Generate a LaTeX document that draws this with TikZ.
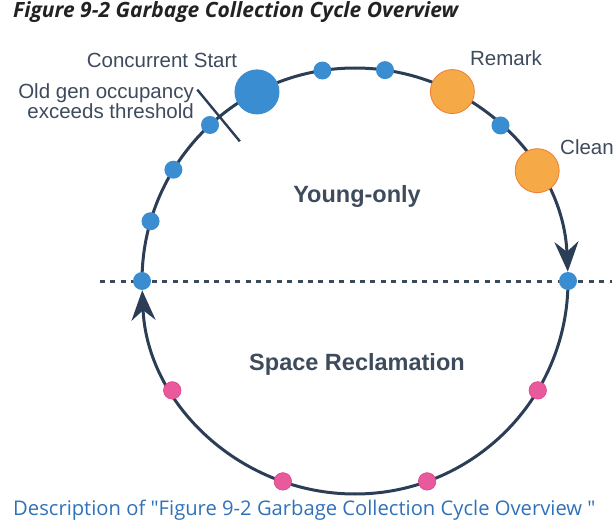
\documentclass[tikz,border=0pt]{standalone}
\usepackage{fontspec}
\setmainfont{Liberation Sans}
\newfontfamily\uifont{Open Sans}
\usetikzlibrary{positioning, arrows.meta}

\definecolor{ringline}{HTML}{2C3E55}
\definecolor{dashgray}{HTML}{3B4A5B}
\definecolor{dotblue}{HTML}{3A8DD0}
\definecolor{dotorange}{HTML}{F5A947}
\definecolor{rimorange}{HTML}{EE7D38}
\definecolor{dotpink}{HTML}{E85A9B}
\definecolor{rimpink}{HTML}{E0408A}
\definecolor{labelgray}{HTML}{3E4B5C}
\definecolor{linkblue}{HTML}{2F72B9}
\definecolor{titleink}{HTML}{222222}

\begin{document}
\begin{tikzpicture}[x=1pt, y=1pt,
    small/.style={circle, fill=dotblue, minimum size=18pt, inner sep=0pt},
    big/.style={circle, fill=dotblue, minimum size=45pt, inner sep=0pt},
    phase/.style={circle, fill=dotorange, draw=rimorange, line width=0.8pt, minimum size=44pt, inner sep=0pt},
    mixed/.style={circle, fill=dotpink, draw=rimpink, line width=0.6pt, minimum size=17.5pt, inner sep=0pt},
    lbl/.style={text=labelgray, inner sep=0pt, font=\fontsize{20.5}{19}\selectfont},
    area/.style={text=labelgray, inner sep=0pt, font=\fontsize{23.5}{26}\selectfont\bfseries},
    ring/.style={draw=ringline, line width=3pt},
    cycletip/.style={-{Stealth[length=30pt, width=24pt, inset=10pt]}}
  ]
  \useasboundingbox (0,0) rectangle (614,-527);
  \coordinate (c) at (355,-281);

  % title and caption
  \node [anchor=west, inner sep=0pt, text=titleink, font=\uifont\fontsize{21}{24}\selectfont\bfseries\itshape] (title) at (13,-12) {Figure 9-2 Garbage Collection Cycle Overview};
  \node [anchor=west, inner sep=0pt, text=linkblue, font=\uifont\fontsize{20.2}{24}\selectfont] (desc) at (13,-510) {Description of "Figure 9-2 Garbage Collection Cycle Overview "};

  % boundary between the two phases
  \draw [dashgray, line width=3pt, dash pattern=on 5pt off 5.4pt] (100,-281) -- (612,-281);

  % the cycle
  \draw [ring, cycletip] ([shift={(180:213)}]c) arc [start angle=180, end angle=2.5, radius=213];
  \draw [ring, cycletip] ([shift={(0:213)}]c) arc [start angle=0, end angle=-177.5, radius=213];

  % threshold mark
  \draw [ring, line width=2.4pt] ([shift={(129.5:248)}]c) -- ([shift={(129.5:181)}]c);

  % young-only collections
  \node [small] (y1) at ([shift={(163.7:213)}]c) {};
  \node [small] (y2) at ([shift={(148.5:213)}]c) {};
  \node [small] (y3) at ([shift={(132.9:213)}]c) {};
  \node [big] (start) at ([shift={(117.4:213)}]c) {};
  \node [small] (y4) at ([shift={(98.8:213)}]c) {};
  \node [small] (y5) at ([shift={(81.9:213)}]c) {};
  \node [phase] (remark) at ([shift={(62.8:213)}]c) {};
  \node [small] (y6) at ([shift={(46.9:213)}]c) {};
  \node [phase] (clean) at ([shift={(31.2:213)}]c) {};
  \node [small] (east) at ([shift={(0:213)}]c) {};
  \node [small] (west) at ([shift={(180:213)}]c) {};

  % mixed collections
  \node [mixed] (m1) at ([shift={(-30.9:213)}]c) {};
  \node [mixed] (m2) at ([shift={(-70.2:213)}]c) {};
  \node [mixed] (m3) at ([shift={(-109.8:213)}]c) {};
  \node [mixed] (m4) at ([shift={(-149.1:213)}]c) {};

  % labels
  \node [lbl] (startlbl) at (162,-60) {Concurrent Start};
  \node [lbl, anchor=east, align=right] (occlbl) at (194,-101) {Old gen occupancy\\exceeds threshold};
  \node [lbl] (remarklbl) at (506,-58) {Remark};
  \node [lbl, anchor=west] (cleanlbl) at (560,-147) {Clean};
  \node [area] (young) at (357,-196) {Young-only};
  \node [area] (space) at (357,-364) {Space Reclamation};
\end{tikzpicture}
\end{document}
